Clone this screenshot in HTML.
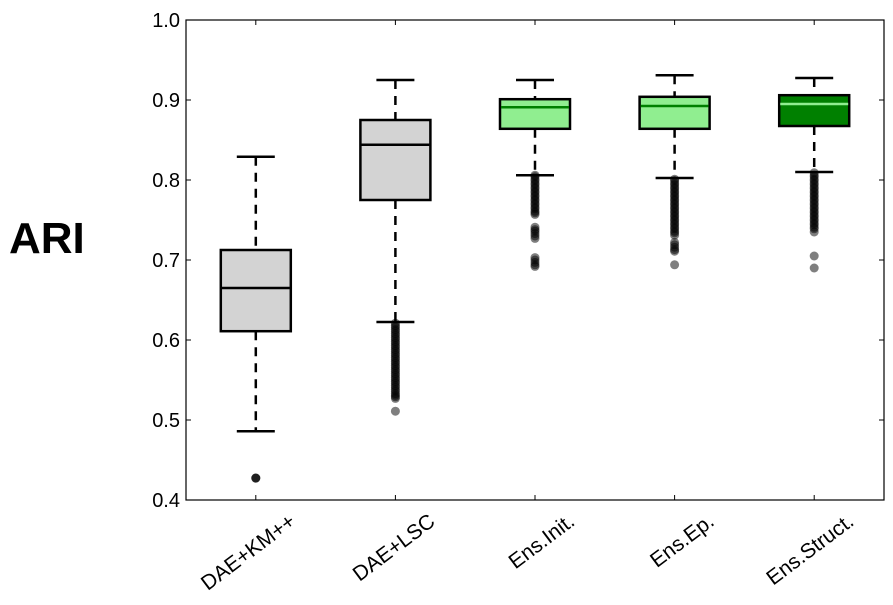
<!DOCTYPE html>
<html><head><meta charset="utf-8"><style>
body{margin:0;background:#fff;}
svg{display:block;font-family:"Liberation Sans","DejaVu Sans",sans-serif;}
</style></head><body>
<svg id="chart" width="893" height="605" viewBox="0 0 893 605" xmlns="http://www.w3.org/2000/svg">
<text x="9" y="253" font-size="44" font-weight="bold">ARI</text>
<g id="plot"></g>
<rect x="186" y="20" width="698" height="480" fill="none" stroke="#000" stroke-width="1.2"/>
</svg>
<script>
const categories=["DAE+KM++","DAE+LSC","Ens.Init.","Ens.Ep.","Ens.Struct."];
const whiskerHigh=[0.829,0.925,0.925,0.931,0.9275];
const q3=[0.7125,0.875,0.901,0.904,0.906];
const medians=[0.665,0.844,0.891,0.8925,0.895];
const q1=[0.611,0.775,0.864,0.864,0.8675];
const whiskerLow=[0.486,0.6225,0.806,0.8025,0.81];
const boxFill=["#d3d3d3","#d3d3d3","#90ee90","#90ee90","#008000"];
const medianColor=["#000","#000","#008000","#008000","#90ee90"];
const outliers=[
 [0.4275,0.4275,0.4272],
 [0.621,0.618,0.616,0.613,0.611,0.608,0.606,0.603,0.601,0.598,0.596,0.593,0.591,0.588,0.586,0.583,0.581,0.578,0.576,0.573,0.571,0.568,0.566,0.563,0.561,0.558,0.556,0.553,0.551,0.548,0.546,0.543,0.541,0.538,0.536,0.533,0.531,0.529,0.527,0.511],
 [0.806,0.804,0.801,0.799,0.796,0.794,0.791,0.789,0.786,0.784,0.781,0.779,0.776,0.774,0.771,0.769,0.766,0.764,0.761,0.759,0.757,0.741,0.738,0.736,0.733,0.730,0.727,0.703,0.700,0.697,0.694,0.692],
 [0.801,0.799,0.796,0.794,0.791,0.789,0.786,0.784,0.781,0.779,0.776,0.774,0.771,0.769,0.766,0.764,0.761,0.759,0.756,0.754,0.751,0.749,0.746,0.744,0.741,0.739,0.736,0.734,0.731,0.722,0.719,0.716,0.713,0.711,0.694],
 [0.809,0.806,0.804,0.801,0.799,0.796,0.794,0.791,0.789,0.786,0.784,0.781,0.779,0.776,0.774,0.771,0.769,0.766,0.764,0.761,0.759,0.756,0.754,0.751,0.749,0.746,0.744,0.741,0.739,0.735,0.705,0.690]
];
const yTicks=[0.4,0.5,0.6,0.7,0.8,0.9,1.0];
const NS="http://www.w3.org/2000/svg";
const L=186,R=884,T=20,B=500;
const y=v=>B-(v-0.4)/0.6*(B-T);
const x=i=>L+(R-L)*(i+0.5)/categories.length;
const g=document.getElementById('plot');
function mk(tag,attrs,parent){const e=document.createElementNS(NS,tag);for(const k in attrs)e.setAttribute(k,attrs[k]);(parent||g).appendChild(e);return e;}
yTicks.forEach(t=>{
 const ln=mk('line',{x1:L,x2:L+5,y1:y(t),y2:y(t),stroke:'#000'});
 
 
 const ln2=mk('line',{x1:R-5,x2:R,y1:y(t),y2:y(t),stroke:'#000'});
 
 
 const tx=mk('text',{x:L-6,y:y(t)+7,'text-anchor':'end','font-size':20});
 tx.textContent=t.toFixed(1);
 
 
});
const bw=70,cw=38;
categories.forEach((c,i)=>{
 const cx=x(i);
 const grp=mk('g',{});
 
 
 mk('line',{x1:cx,x2:cx,y1:y(whiskerHigh[i]),y2:y(q3[i]),stroke:'#000','stroke-width':2.5,'stroke-dasharray':'9,7'},grp);
 mk('line',{x1:cx,x2:cx,y1:y(q1[i]),y2:y(whiskerLow[i]),stroke:'#000','stroke-width':2.5,'stroke-dasharray':'9,7'},grp);
 mk('line',{x1:cx-cw/2,x2:cx+cw/2,y1:y(whiskerHigh[i]),y2:y(whiskerHigh[i]),stroke:'#000','stroke-width':2.5},grp);
 outliers[i].forEach(v=>{
  const p=mk('circle',{cx:cx,cy:y(v),r:4.5,fill:'#000','fill-opacity':0.5},grp);
  
  
 });
 mk('line',{x1:cx-cw/2,x2:cx+cw/2,y1:y(whiskerLow[i]),y2:y(whiskerLow[i]),stroke:'#000','stroke-width':2.5},grp);
 mk('rect',{x:cx-bw/2,y:y(q3[i]),width:bw,height:y(q1[i])-y(q3[i]),fill:boxFill[i],stroke:'#000','stroke-width':2.5},grp);
 mk('line',{x1:cx-bw/2+1,x2:cx+bw/2-1,y1:y(medians[i]),y2:y(medians[i]),stroke:medianColor[i],'stroke-width':2.5},grp);
 const tk=mk('line',{x1:cx,x2:cx,y1:B,y2:B-5,stroke:'#000'});
 
 
 const tk2=mk('line',{x1:cx,x2:cx,y1:T,y2:T+5,stroke:'#000'});
 
 
 const ax=cx+41,ay=B+24;
 const lb=mk('text',{x:ax,y:ay,'text-anchor':'end','font-size':21,transform:`rotate(-37 ${ax} ${ay})`});
 lb.textContent=c;
 
 
});
</script>
</body></html>
